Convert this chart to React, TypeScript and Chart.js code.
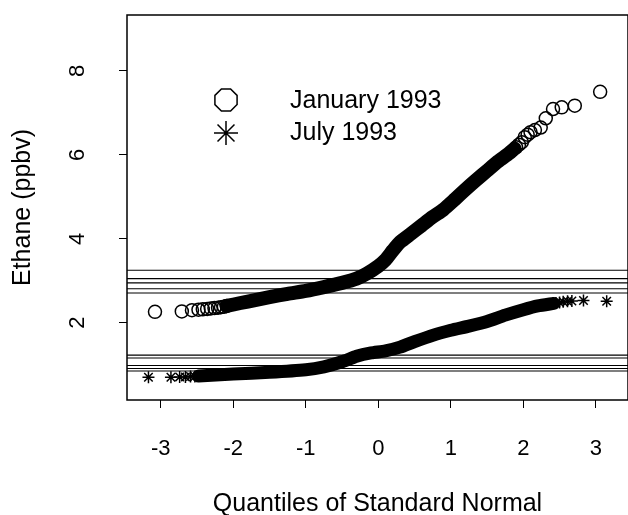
import React, { useEffect, useRef } from "react";
import { Chart, registerables } from "chart.js";

Chart.register(...registerables);

// ---- axis setup ----
const xTickValues = [-3, -2, -1, 0, 1, 2, 3];
const yTickValues = [2, 4, 6, 8];
const xRange = [-3.466, 3.444];
const yRange = [0.16, 9.33];

// ---- January 1993 (circles) ----
// individually visible points in the tails
const janPointsX = [-3.08, -2.71, -2.57, -2.48, -2.42, -2.36, -2.31, -2.26, -2.21, -2.17, -2.13, -2.09,
  1.90, 1.94, 1.98, 2.02, 2.06, 2.10, 2.16, 2.24, 2.31, 2.41, 2.53, 2.71, 3.06];
const janPointsY = [2.26, 2.27, 2.30, 2.31, 2.32, 2.33, 2.34, 2.35, 2.36, 2.37, 2.38, 2.40,
  6.18, 6.24, 6.30, 6.42, 6.48, 6.54, 6.59, 6.65, 6.87, 7.09, 7.13, 7.17, 7.50];
// centre of the dense band of overlapping points
const janBandX = [-2.09, -1.9, -1.7, -1.5, -1.25, -1.0, -0.75, -0.5, -0.3, -0.15, 0.0, 0.1, 0.2, 0.3,
  0.45, 0.6, 0.75, 0.9, 1.05, 1.2, 1.35, 1.5, 1.65, 1.8, 1.88];
const janBandY = [2.40, 2.47, 2.54, 2.61, 2.69, 2.76, 2.85, 2.95, 3.05, 3.18, 3.35, 3.50, 3.72, 3.92,
  4.12, 4.32, 4.52, 4.70, 4.93, 5.17, 5.40, 5.62, 5.84, 6.03, 6.15];

// ---- July 1993 (asterisks) ----
const julPointsX = [-3.17, -2.86, -2.74, -2.66, -2.59, -2.53, -2.48,
  2.45, 2.50, 2.55, 2.61, 2.67, 2.83, 3.15];
const julPointsY = [0.70, 0.70, 0.71, 0.71, 0.72, 0.72, 0.73,
  2.47, 2.48, 2.50, 2.51, 2.52, 2.53, 2.51];
const julBandX = [-2.48, -2.0, -1.5, -1.0, -0.75, -0.5, -0.3, -0.1, 0.1, 0.3, 0.5, 0.75, 1.0, 1.25,
  1.5, 1.75, 2.0, 2.2, 2.42];
const julBandY = [0.73, 0.78, 0.82, 0.88, 0.95, 1.07, 1.20, 1.28, 1.33, 1.42, 1.55, 1.70, 1.82, 1.92,
  2.03, 2.18, 2.31, 2.40, 2.46];

// ---- horizontal reference lines ----
const refLevels = [3.25, 3.05, 2.95, 2.81, 2.71, 1.23, 1.16, 0.98, 0.91, 0.85];

const legendLabels = ["January 1993", "July 1993"];
const xTitle = "Quantiles of Standard Normal";
const yTitle = "Ethane (ppbv)";

const FONT = "'Liberation Sans', Arial, Helvetica, sans-serif";

const toXY = (xs: number[], ys: number[]) => xs.map((x, i) => ({ x, y: ys[i] }));

const framePlugin = {
  id: "frameAndLegend",
  afterDraw(chart: any) {
    const { ctx, chartArea: a } = chart;
    ctx.save();
    ctx.strokeStyle = "#000";
    ctx.lineWidth = 1.5;
    ctx.strokeRect(a.left, a.top, a.right - a.left, a.bottom - a.top);

    // legend
    const cx = a.left + 99;
    const cy1 = a.top + 85;
    const cy2 = a.top + 118;
    const r = 12;
    ctx.lineWidth = 1.5;
    ctx.beginPath();
    for (let k = 0; k < 8; k++) {
      const ang = Math.PI / 8 + (k * Math.PI) / 4;
      const px = cx + r * Math.cos(ang);
      const py = cy1 + r * Math.sin(ang);
      if (k === 0) ctx.moveTo(px, py);
      else ctx.lineTo(px, py);
    }
    ctx.closePath();
    ctx.stroke();
    ctx.beginPath();
    for (let k = 0; k < 4; k++) {
      const ang = (k * Math.PI) / 4;
      ctx.moveTo(cx - r * Math.cos(ang), cy2 - r * Math.sin(ang));
      ctx.lineTo(cx + r * Math.cos(ang), cy2 + r * Math.sin(ang));
    }
    ctx.stroke();

    ctx.fillStyle = "#000";
    ctx.font = `25px ${FONT}`;
    ctx.textAlign = "left";
    ctx.textBaseline = "alphabetic";
    ctx.fillText(legendLabels[0], a.left + 163, a.top + 93);
    ctx.fillText(legendLabels[1], a.left + 163, a.top + 125);
    ctx.restore();
  },
};

const zeroPad = (axis: any) => {
  axis.paddingTop = 0;
  axis.paddingBottom = 0;
  axis.paddingLeft = 0;
  axis.paddingRight = 0;
};

export default function App() {
  const canvasRef = useRef<HTMLCanvasElement | null>(null);

  useEffect(() => {
    if (!canvasRef.current) return;
    const refDatasets = refLevels.map((v) => ({
      data: [
        { x: xRange[0], y: v },
        { x: xRange[1], y: v },
      ],
      showLine: true,
      borderColor: "#000",
      borderWidth: 1.1,
      pointRadius: 0,
    }));

    const chart = new Chart(canvasRef.current, {
      type: "scatter",
      data: {
        datasets: [
          ...refDatasets,
          {
            label: legendLabels[0] + " band",
            data: toXY(janBandX, janBandY),
            showLine: true,
            borderColor: "#000",
            borderWidth: 14,
            borderCapStyle: "round",
            borderJoinStyle: "round",
            tension: 0.2,
            pointRadius: 0,
          },
          {
            label: legendLabels[1] + " band",
            data: toXY(julBandX, julBandY),
            showLine: true,
            borderColor: "#000",
            borderWidth: 13,
            borderCapStyle: "round",
            borderJoinStyle: "round",
            tension: 0.2,
            pointRadius: 0,
          },
          {
            label: legendLabels[0],
            data: toXY(janPointsX, janPointsY),
            pointStyle: "circle",
            pointRadius: 6.5,
            pointBorderWidth: 1.5,
            borderColor: "#000",
            backgroundColor: "rgba(0,0,0,0)",
          },
          {
            label: legendLabels[1],
            data: toXY(julPointsX, julPointsY),
            pointStyle: "star",
            pointRadius: 6,
            pointBorderWidth: 1.5,
            borderColor: "#000",
            backgroundColor: "rgba(0,0,0,0)",
          },
        ] as any,
      },
      options: {
        animation: false,
        responsive: true,
        maintainAspectRatio: false,
        layout: { autoPadding: false, padding: { left: 0, right: 0, top: 15, bottom: 0 } },
        plugins: {
          legend: { display: false },
          tooltip: { enabled: false },
        },
        scales: {
          x: {
            type: "linear",
            min: xRange[0],
            max: xRange[1],
            afterBuildTicks: (axis: any) => {
              axis.ticks = xTickValues.map((v) => ({ value: v }));
            },
            afterFit: (axis: any) => {
              axis.height = 115;
              zeroPad(axis);
            },
            grid: { display: true, drawOnChartArea: false, drawTicks: true, tickLength: 8, color: "#000", lineWidth: 1 },
            border: { display: false },
            ticks: {
              color: "#000",
              padding: 28,
              maxRotation: 0,
              autoSkip: false,
              font: { family: FONT, size: 22 },
              callback: (v: any) => String(v),
            },
            title: {
              display: true,
              text: xTitle,
              color: "#000",
              font: { family: FONT, size: 25, lineHeight: 0.8 },
              padding: { top: 0, bottom: 1 },
            },
          },
          y: {
            type: "linear",
            min: yRange[0],
            max: yRange[1],
            afterBuildTicks: (axis: any) => {
              axis.ticks = yTickValues.map((v) => ({ value: v }));
            },
            afterFit: (axis: any) => {
              axis.width = 127;
              zeroPad(axis);
            },
            grid: { display: true, drawOnChartArea: false, drawTicks: true, tickLength: 8, color: "#000", lineWidth: 1 },
            border: { display: false },
            ticks: {
              color: "#000",
              padding: 35,
              minRotation: 90,
              maxRotation: 90,
              crossAlign: "center",
              autoSkip: false,
              font: { family: FONT, size: 22 },
              callback: (v: any) => String(v),
            },
            title: {
              display: true,
              text: yTitle,
              color: "#000",
              font: { family: FONT, size: 25 },
              padding: { top: 8, bottom: 0 },
            },
          },
        },
      } as any,
      plugins: [framePlugin],
    });
    return () => chart.destroy();
  }, []);

  return (
    <div style={{ position: "fixed", left: 0, top: 0, width: 628, height: 515, background: "#fff" }}>
      <canvas ref={canvasRef} />
    </div>
  );
}
